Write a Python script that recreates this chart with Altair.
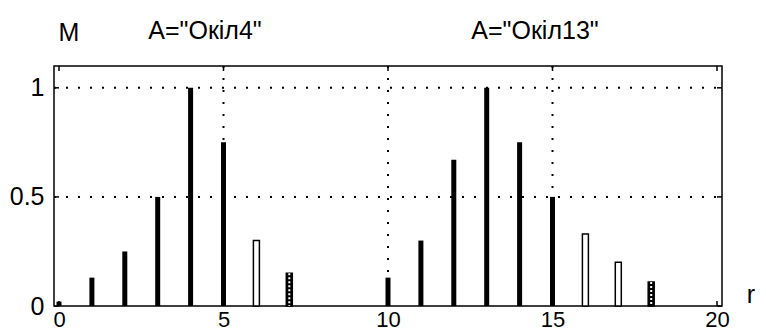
import altair as alt
import pandas as pd

# data
solid_r = [0, 1, 2, 3, 4, 5, 10, 11, 12, 13, 14, 15]
solid_v = [0.02, 0.13, 0.25, 0.5, 1.0, 0.75, 0.13, 0.3, 0.67, 1.0, 0.75, 0.5]
hollow_r = [6, 16, 17]
hollow_v = [0.3, 0.33, 0.2]
dotted_r = [7, 18]
dotted_v = [0.15, 0.11]
x_ticks = [0, 5, 10, 15, 20]
y_ticks = [0, 0.5, 1]
x_grid = [5, 10, 15]
y_grid = [0.5, 1]
titles = ['A="Окіл4"', 'A="Окіл13"']

FONT = "Liberation Sans"
FS = 25
W, H = 668, 240

xs = alt.Scale(domain=[0, 20], nice=False, zero=False)
ys = alt.Scale(domain=[0, 1.1], nice=False)

solid = pd.DataFrame({"r": solid_r, "v": solid_v})
hollow = pd.DataFrame({"r": hollow_r, "v": hollow_v})
dotted = pd.DataFrame({"r": dotted_r, "v": dotted_v})
xg = pd.DataFrame({"x": x_grid})
yg = pd.DataFrame({"y": y_grid})
xt = pd.DataFrame({"x": x_ticks})
yt = pd.DataFrame({"y": y_ticks})
one = pd.DataFrame({"a": [0]})

axis_base = alt.Chart(xt).mark_point(opacity=0).encode(
    x=alt.X("x:Q", scale=xs,
            axis=alt.Axis(values=x_ticks, title=None, grid=False, domain=False,
                          ticks=False, labelFontSize=22, labelFont=FONT,
                          labelColor="black", labelPadding=3, labelFlush=False,
                          labelOverlap=False)),
    y=alt.Y("x:Q", scale=ys,
            axis=alt.Axis(values=y_ticks, title=None, grid=False, domain=False,
                          ticks=False, labelFontSize=FS, labelFont=FONT,
                          labelColor="black", labelPadding=10, format="~g",
                          labelFlush=False, labelOverlap=False)),
)

gx = alt.Chart(xg).mark_rule(color="black", strokeDash=[2, 10], strokeWidth=2).encode(
    x=alt.X("x:Q", scale=xs), y=alt.value(0), y2=alt.value(H))
gy = alt.Chart(yg).mark_rule(color="black", strokeDash=[2, 10], strokeWidth=2).encode(
    y=alt.Y("y:Q", scale=ys), x=alt.value(0), x2=alt.value(W))

tick_len = 5
tb = alt.Chart(xt).mark_rule(color="black", strokeWidth=1.5).encode(
    x=alt.X("x:Q", scale=xs), y=alt.value(H), y2=alt.value(H - tick_len))
tt_ = alt.Chart(xt).mark_rule(color="black", strokeWidth=1.5).encode(
    x=alt.X("x:Q", scale=xs), y=alt.value(0), y2=alt.value(tick_len))
tl = alt.Chart(yt).mark_rule(color="black", strokeWidth=1.5).encode(
    y=alt.Y("y:Q", scale=ys), x=alt.value(0), x2=alt.value(tick_len))
tr = alt.Chart(yt).mark_rule(color="black", strokeWidth=1.5).encode(
    y=alt.Y("y:Q", scale=ys), x=alt.value(W), x2=alt.value(W - tick_len))

sb = alt.Chart(solid).mark_rule(color="black", strokeWidth=5, strokeCap="butt").encode(
    x=alt.X("r:Q", scale=xs), y=alt.Y("v:Q", scale=ys), y2=alt.datum(0))
hb = alt.Chart(hollow).mark_bar(fill="white", stroke="black", strokeWidth=1.5, size=6).encode(
    x=alt.X("r:Q", scale=xs), y=alt.Y("v:Q", scale=ys), y2=alt.datum(0))
db = alt.Chart(dotted).mark_bar(fill="black", stroke="black", strokeWidth=1.5, size=6).encode(
    x=alt.X("r:Q", scale=xs), y=alt.Y("v:Q", scale=ys), y2=alt.datum(0))
dd = alt.Chart(dotted).mark_rule(color="white", strokeWidth=2, strokeDash=[2, 2], strokeCap="butt").encode(
    x=alt.X("r:Q", scale=xs), y=alt.Y("v:Q", scale=ys), y2=alt.datum(0))

def label(txt, px, py):
    return alt.Chart(one).mark_text(font=FONT, fontSize=FS, color="black",
                                    baseline="middle", align="center", text=txt).encode(
        x=alt.value(px), y=alt.value(py))

ttl1 = label(titles[0], 151, -35)
ttl2 = label(titles[1], 481, -35)
m_lbl = label("M", 15, -33)
r_lbl = label("r", 697, 229)

chart = alt.layer(axis_base, gx, gy, tb, tt_, tl, tr, sb, hb, db, dd,
                  ttl1, ttl2, m_lbl, r_lbl).properties(
    width=W, height=H,
    autosize=alt.AutoSizeParams(type="none"),
    padding={"left": 46, "top": 58, "right": 36, "bottom": 30},
    background="white",
).configure_view(stroke="black", strokeWidth=1.5)

chart.save("out.html", embed_options={"renderer": "svg", "actions": False})
